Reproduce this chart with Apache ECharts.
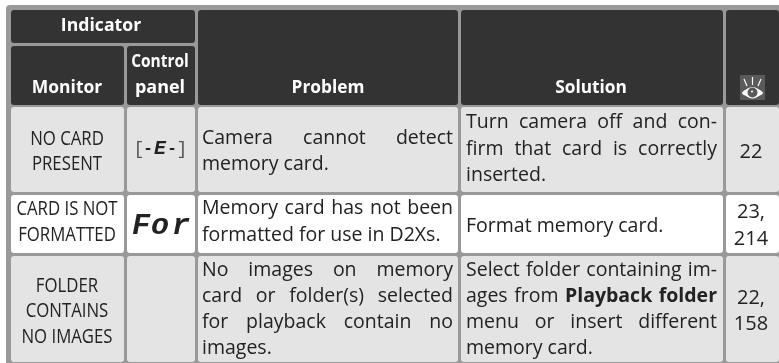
<!DOCTYPE html>
<html><head><meta charset="utf-8"><style>html,body{margin:0;padding:0;background:#fff}#c{width:779px;height:363px}</style>
<script src="https://cdn.jsdelivr.net/npm/echarts@6/dist/echarts.min.js"></script></head><body><div id="c"></div>
<script>
const FONT='"Open Sans"';
const headers=['Indicator','Monitor','Control','panel','Problem','Solution'];
const monitorLines=[['NO CARD','PRESENT'],['CARD IS NOT','FORMATTED'],['FOLDER','CONTAINS','NO IMAGES']];
const panelSymbols=['[','-','E','-',']'];
const panelLetters=['F','o','r'];
const problemLines=[['Camera cannot detect','memory card.'],['Memory card has not been','formatted for use in D2Xs.'],['No images on memory','card or folder(s) selected','for playback contain no','images.']];
const problemJustify=[[1,0],[1,0],[1,1,1,0]];
const solutionLines=[['Turn camera off and con-','firm that card is correctly','inserted.'],['Format memory card.'],['Select folder containing im-','ages from *Playback folder*','menu or insert different','memory card.']];
const solutionJustify=[[1,1,0],[0],[1,1,1,0]];
const pageLines=[['22'],['23,','214'],['22,','158']];
const G=[];
function rect(x0,y0,x1,y1,fill,r){G.push({type:'rect',shape:{x:x0,y:y0,width:x1-x0,height:y1-y0,r:r||3},style:{fill}});}
function text(s,x,y,size,o){o=o||{};G.push({type:'text',x,y:y+1,z:5,scaleX:o.sx||1,style:{text:s,font:(o.style||'')+' '+(o.w||'normal')+' '+size+'px '+(o.f||FONT),fill:o.c||'#222',align:o.a||'center',verticalAlign:'middle'}});}
G.push({type:'rect',shape:{x:6,y:5,width:773,height:358,r:[4,0,0,0]},style:{fill:'#999'}});
const rows=[[107,192],[195,253],[256,362]];
const cols=[[11,124],[127,195],[198,458],[461,723],[726,779]];
const H='#333';
rect(11,10,195,43,H);rect(11,46,124,105,H);rect(127,46,195,105,H);rect(198,10,458,105,H);rect(461,10,723,105,H);rect(726,10,779,105,H);
const fills=['#e4e4e4','#fff','#e4e4e4'];
rows.forEach((r,i)=>cols.forEach(c=>rect(c[0],r[0],c[1],r[1],fills[i])));
const W='#fff',HS=18;
text(headers[0],101,25,HS,{c:W,w:'bold',sx:.98});text(headers[1],67,87,HS,{c:W,w:'bold',sx:.97});text(headers[2],160,61,HS,{c:W,w:'bold',sx:.86});text(headers[3],160,87,HS,{c:W,w:'bold',sx:1});text(headers[4],328,87,HS,{c:W,w:'bold',sx:.96});text(headers[5],591,87,HS,{c:W,w:'bold',sx:.96});
const BS=19.5;
const mY=[[138,163],[208,234],[285,310,336]];
monitorLines.forEach((ls,i)=>ls.forEach((s,j)=>text(s,67,mY[i][j],BS,{sx:.86})));
const pY=[[151],[211,238],[297,323]];
pageLines.forEach((ls,i)=>ls.forEach((s,j)=>text(s,751,pY[i][j],20,{sx:1})));
const symX=[139,148,160,172,182];
panelSymbols.forEach((s,i)=>text(s,symX[i],148,i==2?20:(i%2?16:18),{f:'"Liberation Mono"',w:i%4==0?'normal':'bold',style:i==2?'italic':'',c:i%4==0?'#555':'#222'}));
const letX=[141,160,181];
panelLetters.forEach((s,i)=>text(s,letX[i],225,30,{f:'"Liberation Mono"',w:'bold',style:'italic'}));
const ctx=document.createElement('canvas').getContext('2d');
function wordsOf(line){const out=[];let b=false;line.split(' ').forEach(w=>{let bb=b||w.startsWith('*');let t=w.replace(/\*/g,'');out.push({t,bold:bb});if(w.startsWith('*'))b=true;if(w.endsWith('*'))b=false;});return out;}
function para(lines,just,x0,x1,ys){lines.forEach((l,i)=>{const ws=wordsOf(l);const f=b=>(b?'bold ':'')+BS+'px '+FONT;let tot=0;ws.forEach(w=>{ctx.font=f(w.bold);w.w=ctx.measureText(w.t).width;tot+=w.w;});ctx.font=f(false);const sp=ctx.measureText(' ').width;const gap=just[i]&&ws.length>1?(x1-x0-tot)/(ws.length-1):sp;let x=x0;ws.forEach(w=>{text(w.t,x,ys[i],BS,{a:'left',w:w.bold?'bold':'normal'});x+=w.w+gap;});});}
const prY=[[137,163],[207,234],[269,295,321,347]];
const soY=[[121,148,174],[225],[269,295,321,347]];
problemLines.forEach((l,i)=>para(l,problemJustify[i],202,453,prY[i]));
solutionLines.forEach((l,i)=>para(l,solutionJustify[i],466,717,soY[i]));
// eye icon
const eyeLens=[[2,18],[6,14.5],[12.5,12],[19,14.5],[23,18],[19,21],[12.5,23.5],[6,21]];
G.push({type:'group',x:740,y:75,z:6,children:[
{type:'rect',shape:{x:0,y:0,width:25,height:25},style:{fill:'#5a5a5a'}},
{type:'polygon',z:1,shape:{points:eyeLens,smooth:0.4},style:{fill:'#fff'}},
{type:'circle',z:2,shape:{cx:12.5,cy:17.5,r:5},style:{fill:'#5a5a5a'}},
{type:'circle',z:3,shape:{cx:12,cy:16.5,r:1},style:{fill:'#fff'}},
{type:'line',z:1,shape:{x1:12.5,y1:2,x2:12.5,y2:10},style:{stroke:'#fff',lineWidth:1.2}},
{type:'line',z:1,shape:{x1:4,y1:4,x2:7,y2:11},style:{stroke:'#fff',lineWidth:1.2}},
{type:'line',z:1,shape:{x1:21,y1:4,x2:18,y2:11},style:{stroke:'#fff',lineWidth:1.2}}]});
const chart=echarts.init(document.getElementById('c'),null,{renderer:'canvas'});
chart.setOption({animation:false,graphic:{elements:G}});
</script></body></html>
